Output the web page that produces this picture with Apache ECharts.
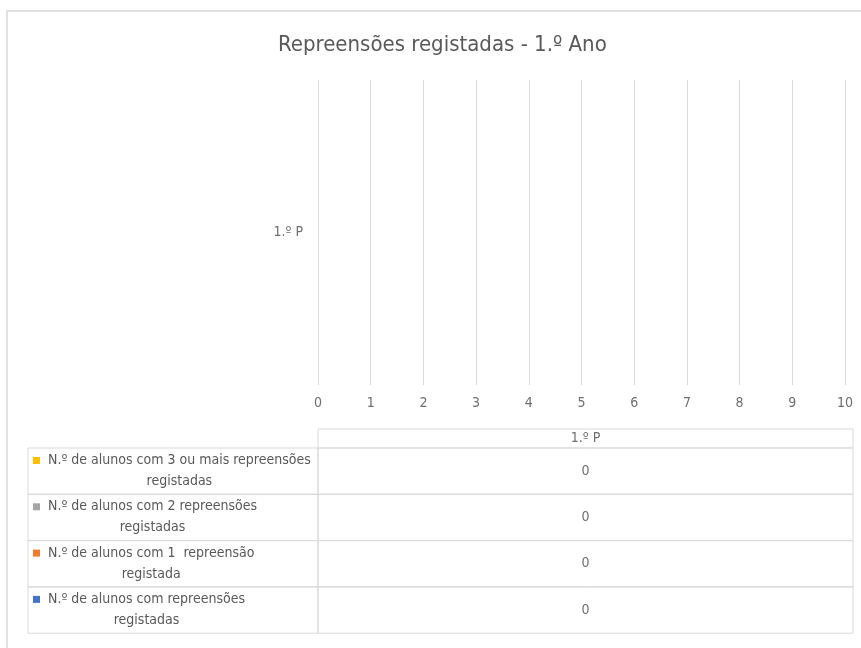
<!DOCTYPE html>
<html>
<head>
<meta charset="utf-8">
<script src="https://cdn.jsdelivr.net/npm/echarts@6/dist/echarts.min.js"></script>
<style>
html,body{margin:0;padding:0;background:#fff;}
#main{width:861px;height:648px;}
</style>
</head>
<body>
<div id="main"></div>
<script>
// ---- data ----
const titleText = 'Repreensões registadas - 1.º Ano';
const categories = ['1.º P'];
const xTicks = [0, 1, 2, 3, 4, 5, 6, 7, 8, 9, 10];
// series (bottom row of table first)
const nameRep  = ['N.º de alunos com repreensões', 'registadas'];
const nameRep1 = ['N.º de alunos com 1  repreensão', 'registada'];
const nameRep2 = ['N.º de alunos com 2 repreensões', 'registadas'];
const nameRep3 = ['N.º de alunos com 3 ou mais repreensões', 'registadas'];
const valuesRep  = [0];
const valuesRep1 = [0];
const valuesRep2 = [0];
const valuesRep3 = [0];
const colorRep = '#4472C4', colorRep1 = '#ED7D31', colorRep2 = '#A5A5A5', colorRep3 = '#FFC000';

const FONT = '"Liberation Sans Narrow","Arial Narrow","DejaVu Sans Condensed",sans-serif';
const TXT = '#595959';
const TXT2 = '#6f6f6f';
const LINE = '#d9d9d9';

const seriesDefs = [
  {lines: nameRep,  values: valuesRep,  color: colorRep},
  {lines: nameRep1, values: valuesRep1, color: colorRep1},
  {lines: nameRep2, values: valuesRep2, color: colorRep2},
  {lines: nameRep3, values: valuesRep3, color: colorRep3}
];

const chart = echarts.init(document.getElementById('main'), null, {renderer: 'canvas'});

const option = {
  animation: false,
  backgroundColor: '#fff',
  textStyle: {fontFamily: FONT},
  title: {
    text: titleText, left: 273, top: 29,
    textStyle: {fontFamily: FONT, fontSize: 22, fontWeight: 'normal', color: TXT}
  },
  grid: {left: 318, right: 16, top: 80, bottom: 263, containLabel: false},
  xAxis: {
    type: 'value', min: xTicks[0], max: xTicks[xTicks.length - 1], interval: 1,
    axisLine: {show: false}, axisTick: {show: false},
    axisLabel: {color: TXT2, fontSize: 14, fontFamily: FONT, margin: 11},
    splitLine: {lineStyle: {color: LINE, width: 1}}
  },
  yAxis: {
    type: 'category', data: categories,
    axisLine: {show: false}, axisTick: {show: false},
    axisLabel: {color: TXT2, fontSize: 14, fontFamily: FONT, margin: 15}
  },
  series: seriesDefs.map(s => ({
    type: 'bar', name: s.lines.join(' '), data: s.values,
    itemStyle: {color: s.color}, barGap: '0%'
  }))
};
chart.setOption(option);

// ---- data table drawn under the axis ----
const canvas = document.createElement('canvas');
const ctx = canvas.getContext('2d');
ctx.font = '14px ' + FONT;

const x0 = chart.convertToPixel({xAxisIndex: 0}, 0);   // left edge of value column
const tableRight = 853;
const labelLeft = 28;
const headerTop = 429, headerBottom = 448;
const rowH = 46.3;
const graphics = [];

// outer chart border
graphics.push({type: 'rect', shape: {x: 7, y: 11, width: 900, height: 700},
  style: {fill: null, stroke: '#d9d9d9', lineWidth: 1.5}, silent: true});

// header cell
graphics.push({type: 'rect', shape: {x: x0, y: headerTop, width: tableRight - x0, height: headerBottom - headerTop},
  style: {fill: null, stroke: LINE, lineWidth: 1}});
graphics.push({type: 'text', x: (x0 + tableRight) / 2, y: (headerTop + headerBottom) / 2,
  style: {text: categories[0], fill: TXT2, font: '14px ' + FONT, align: 'center', verticalAlign: 'middle'}});

// rows, top to bottom: reverse order of series
const rows = seriesDefs.slice().reverse();
rows.forEach((s, i) => {
  const top = headerBottom + i * rowH;
  const mid = top + rowH / 2;
  graphics.push({type: 'rect', shape: {x: labelLeft, y: top, width: x0 - labelLeft, height: rowH},
    style: {fill: null, stroke: LINE, lineWidth: 1}});
  graphics.push({type: 'rect', shape: {x: x0, y: top, width: tableRight - x0, height: rowH},
    style: {fill: null, stroke: LINE, lineWidth: 1}});
  // legend key
  graphics.push({type: 'rect', shape: {x: 33, y: top + 9, width: 7, height: 7},
    style: {fill: s.color}});
  // label lines, centred on the first line's width
  const w = ctx.measureText(s.lines[0]).width;
  const cx = 48 + w / 2;
  s.lines.forEach((ln, k) => {
    graphics.push({type: 'text', x: cx, y: top + 12.5 + k * 21,
      style: {text: ln, fill: TXT, font: '14px ' + FONT, align: 'center', verticalAlign: 'middle'}});
  });
  // value
  graphics.push({type: 'text', x: (x0 + tableRight) / 2, y: mid,
    style: {text: String(s.values[0]), fill: TXT2, font: '14px ' + FONT, align: 'center', verticalAlign: 'middle'}});
});

chart.setOption({graphic: {elements: graphics}});
</script>
</body>
</html>
